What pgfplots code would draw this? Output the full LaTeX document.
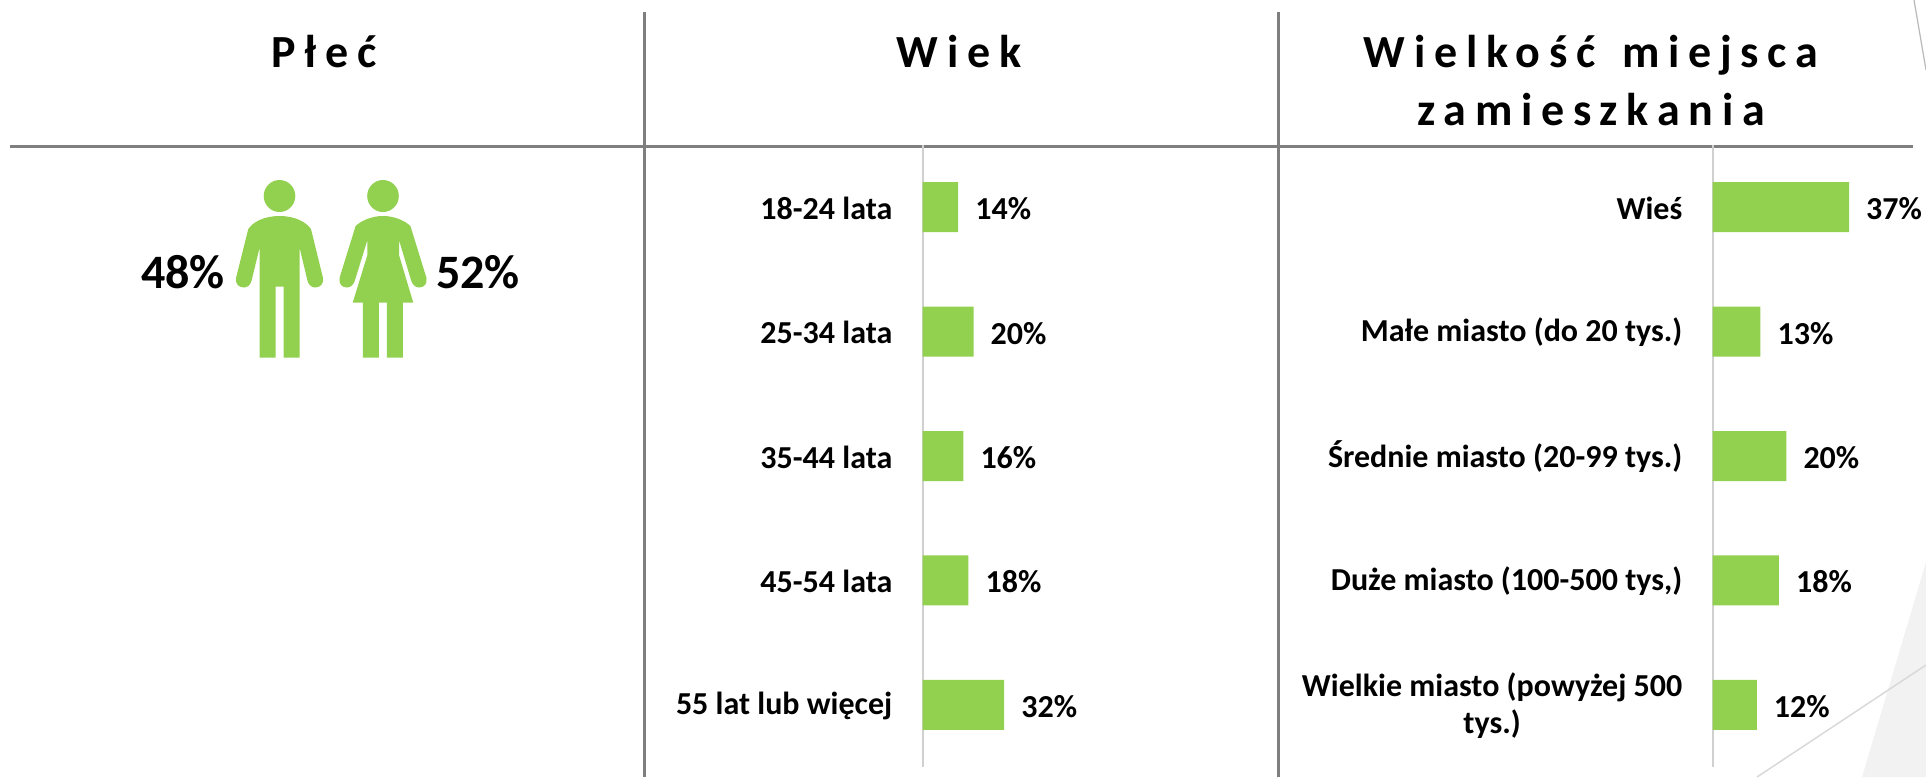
\documentclass[border=0pt]{standalone}
\usepackage{fontspec}
\usepackage{pgfplots}
\pgfplotsset{compat=1.18}
\setmainfont{Carlito}
\newfontfamily\headfont[LetterSpace=19,WordSpace=1.4]{Carlito}
\definecolor{bargreen}{HTML}{92D050}
\definecolor{rulegrey}{HTML}{7F7F7F}
\definecolor{axisgrey}{HTML}{D0D0D0}
\definecolor{decoline}{HTML}{D9D9D9}
\definecolor{decofill}{HTML}{F2F2F2}
\pgfplotstableread{
idx val
0 14
1 20
2 16
3 18
4 32
}\agetable
\pgfplotstableread{
idx val
0 37
1 13
2 20
3 18
4 12
}\citytable
\pgfplotsset{
  barpanel/.style={
    scale only axis, anchor=south west, height=622pt,
    xmin=0, ymin=-0.5, ymax=4.5, y dir=reverse,
    axis x line=none, axis y line*=left,
    y axis line style={draw=axisgrey, line width=2pt, -},
    ytick=data, major tick length=0pt,
    yticklabel style={font=\fontsize{32}{37}\selectfont\bfseries, align=center, inner sep=0pt, xshift=-30pt, yshift=-1pt},
    xbar, bar width=50pt,
    nodes near coords={\pgfmathprintnumber[assume math mode=true]{\pgfplotspointmeta}\%},
    every node near coord/.append style={font=\fontsize{32}{37}\selectfont\bfseries, anchor=west, inner sep=0pt, xshift=17pt, yshift=-1.5pt, text=black},
    clip=false,
  }
}
\begin{document}
\begin{tikzpicture}[x=1pt,y=1pt]
\path[use as bounding box] (0,0) rectangle (1926pt,777pt);
\begin{axis}[at={(0pt,0pt)}, anchor=south west, scale only axis, width=1926pt, height=777pt,
  xmin=0, xmax=1926, ymin=0, ymax=777, y dir=reverse, hide axis, clip=true]
% background decoration
\addplot[fill=decofill, draw=none] coordinates {(1862,777) (1926,562) (1926,777)} -- cycle;
\addplot[decoline, line width=1.5pt] coordinates {(1757,777) (1926,665)};
\addplot[decoline!85!black, line width=1.2pt] coordinates {(1914,0) (1926,70)};
% rules
\addplot[rulegrey, line width=3pt] coordinates {(10,146) (1913,146)};
\addplot[rulegrey, line width=3pt] coordinates {(644.5,12) (644.5,777)};
\addplot[rulegrey, line width=3pt] coordinates {(1278.5,12) (1278.5,777)};
% man
\fill[bargreen] (279.5,196) ellipse [x radius=15.8, y radius=16];
\fill[bargreen] (279.5,216) .. controls (264,216) and (253,222) .. (248.3,229)
  -- (236,278) .. controls (235,284) and (239,287.5) .. (244,287.5)
  .. controls (248,287.5) and (251,284) .. (251.7,280)
  -- (259.7,247.3) -- (259.7,357.7) -- (275.7,357.7) -- (275.7,286.7) -- (283.7,286.7)
  -- (283.7,357.7) -- (299.5,357.7) -- (299.5,247.3) -- (307.3,280)
  .. controls (308,284) and (311,287.5) .. (315,287.5)
  .. controls (320,287.5) and (324,284) .. (323,278)
  -- (311,229) .. controls (306,222) and (295,216) .. (279.5,216) -- cycle;
% woman
\fill[bargreen] (383,196) ellipse [x radius=15.8, y radius=16];
\fill[bargreen] (383,216) .. controls (371,216) and (361,221) .. (355.6,226)
  -- (339.5,278) .. controls (338.5,284) and (342,287.5) .. (347,287.5)
  .. controls (351,287.5) and (354,284) .. (355,280)
  -- (367.4,240) -- (367.4,255) -- (352.7,302.7) -- (362.8,302.7) -- (362.8,357.7)
  -- (378.8,357.7) -- (378.8,302.7) -- (386.8,302.7) -- (386.8,357.7) -- (402.8,357.7)
  -- (402.8,302.7) -- (413.3,302.7) -- (399,255) -- (399,240) -- (411,280)
  .. controls (412,284) and (415,287.5) .. (419,287.5)
  .. controls (424,287.5) and (427.5,284) .. (426.5,278)
  -- (410.4,226) .. controls (405,221) and (395,216) .. (383,216) -- cycle;
% text
\node[font=\fontsize{48}{52}\selectfont\bfseries, inner sep=0pt] at (183,272) {48\%};
\node[font=\fontsize{48}{52}\selectfont\bfseries, inner sep=0pt] at (478,272) {52\%};
\node[font=\fontsize{46}{50}\selectfont\bfseries\headfont, inner sep=0pt] at (324,52) {Płeć};
\node[font=\fontsize{46}{50}\selectfont\bfseries\headfont, inner sep=0pt] at (959,52) {Wiek};
\node[font=\fontsize{46}{58}\selectfont\bfseries\headfont, inner sep=0pt, align=center] at (1591,81) {Wielkość miejsca\\zamieszkania};
\end{axis}
\begin{axis}[barpanel, at={(922.5pt,10pt)}, width=255pt, xmax=100,
  yticklabels={18-24 lata,25-34 lata,35-44 lata,45-54 lata,55 lat lub więcej}]
\addplot[fill=bargreen, draw=none] table[x=val, y=idx] {\agetable};
\end{axis}
\begin{axis}[barpanel, at={(1712.5pt,10pt)}, width=184.5pt, xmax=50,
  yticklabels={Wieś,Małe miasto (do 20 tys.),Średnie miasto (20-99 tys.),Duże miasto (100-500 tys{,}),{Wielkie miasto (powyżej 500\\tys.)}}]
\addplot[fill=bargreen, draw=none] table[x=val, y=idx] {\citytable};
\end{axis}
\end{tikzpicture}
\end{document}
